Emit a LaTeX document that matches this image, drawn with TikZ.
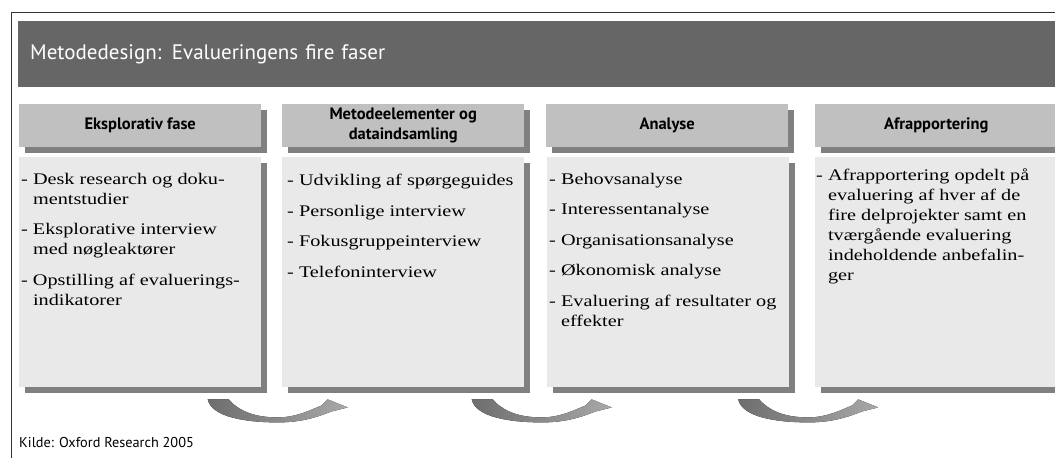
\documentclass[tikz,border=0pt]{standalone}
\usepackage{fontspec}
\setmainfont{Liberation Serif}[FakeStretch=1.25]
\setsansfont{PT Sans}
\usetikzlibrary{shadows, calc}

\definecolor{framegray}{HTML}{333333}
\definecolor{bargray}{HTML}{666666}
\definecolor{headgray}{HTML}{C0C0C0}
\definecolor{boxgray}{HTML}{E9E9E9}
\definecolor{shadegray}{HTML}{808080}
\definecolor{swooshdark}{HTML}{6E6E6E}
\definecolor{swooshlight}{HTML}{A8A8A8}

\tikzset{
  flatshadow/.style={drop shadow={shadow xshift=6pt, shadow yshift=-6pt, opacity=1, fill=shadegray}},
  titlebar/.style={fill=bargray, text=white, anchor=north west, text width=1015pt, inner xsep=12pt,
    minimum height=66pt, align=left, font=\sffamily\fontsize{21}{25}\selectfont},
  phasehead/.style={fill=headgray, flatshadow, anchor=north west, minimum width=242pt, minimum height=43pt,
    inner sep=0pt, align=center, font=\sffamily\bfseries\fontsize{16.5}{20}\selectfont},
  phasebox/.style={fill=boxgray, flatshadow, anchor=north west, minimum width=242pt, minimum height=230pt, inner sep=0pt},
  itemtext/.style={anchor=north west, inner sep=0pt, align=left, font=\fontsize{16.2}{20}\selectfont},
  source/.style={anchor=base west, inner sep=0pt, font=\sffamily\fontsize{14.3}{16}\selectfont},
  swoosh/.pic={
    \fill[left color=swooshdark, right color=swooshlight]
      (-64,12) -- (-43,12) .. controls (-30,27) and (-10,30) .. (6,30)
      .. controls (25,30) and (40,22) .. (50,18) -- (56,12) -- (76,20) -- (60,24)
      .. controls (40,32) and (25,35) .. (6,35)
      .. controls (-25,35) and (-60,30) .. (-64,12) -- cycle;
  }
}

\begin{document}
\begin{tikzpicture}[x=1pt, y=-1pt]
  \useasboundingbox (0,0) rectangle (1055,458);
  \draw[framegray, line width=1pt] (11,458) -- (11,12) -- (1055,12);
  \node[titlebar] (title) at (18,21) {Metodedesign: Evalueringens fire faser};

  % headers
  \node[phasehead] (h1) at (19,104) {Eksplorativ fase};
  \node[phasehead] (h2) at (282,104) {Metodeelementer og\\dataindsamling};
  \node[phasehead] (h3) at (546,104) {Analyse};
  \node[phasehead] (h4) at (815,104) {Afrapportering};

  % content boxes
  \node[phasebox] (c1) at (19,157) {};
  \node[phasebox] (c2) at (282,157) {};
  \node[phasebox] (c3) at (547,157) {};
  \node[phasebox] (c4) at (815,157) {};

  \node[itemtext] (t1) at ($(c1.north west)+(2,16)$) {- Desk research og doku-\\\phantom{- }mentstudier\\[10.5pt]
    - Eksplorative interview\\\phantom{- }med nøgleaktører\\[10.5pt]
    - Opstilling af evaluerings-\\\phantom{- }indikatorer};
  \node[itemtext] (t2) at ($(c2.north west)+(5,17)$) {- Udvikling af spørgeguides\\[10.5pt]
    - Personlige interview\\[10.5pt]
    - Fokusgruppeinterview\\[10.5pt]
    - Telefoninterview};
  \node[itemtext] (t3) at ($(c3.north west)+(2,16)$) {- Behovsanalyse\\[10.5pt]
    - Interessentanalyse\\[10.5pt]
    - Organisationsanalyse\\[10.5pt]
    - Økonomisk analyse\\[10.5pt]
    - Evaluering af resultater og\\\phantom{- }effekter};
  \node[itemtext] (t4) at ($(c4.north west)+(1,12)$) {- Afrapportering opdelt på\\\phantom{- }evaluering af hver af de\\\phantom{- }fire delprojekter samt en\\\phantom{- }tværgående evaluering\\\phantom{- }indeholdende anbefalin-\\\phantom{- }ger};

  % arrows between phases
  \pic at ($(c1.south east)!0.5!(c2.south west)$) {swoosh};
  \pic at ($(c2.south east)!0.5!(c3.south west)$) {swoosh};
  \pic at ($(c3.south east)!0.5!(c4.south west)$) {swoosh};

  \node[source] (kilde) at (19,447) {Kilde: Oxford Research 2005};
\end{tikzpicture}
\end{document}
